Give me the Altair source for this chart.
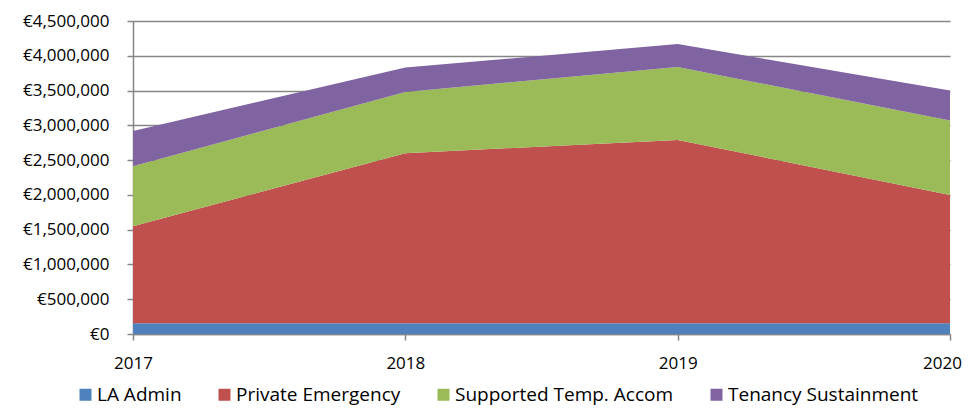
import altair as alt
import pandas as pd

years = ["2017", "2018", "2019", "2020"]
series = ["LA Admin", "Private Emergency", "Supported Temp. Accom", "Tenancy Sustainment"]
colors = ["#4F81BD", "#C0504D", "#9BBB59", "#8064A2"]

la_admin = [155000, 155000, 155000, 155000]
private_emergency = [1395000, 2445000, 2635000, 1845000]
supported_temp = [860000, 880000, 1050000, 1070000]
tenancy_sustainment = [510000, 350000, 330000, 430000]

values = [la_admin, private_emergency, supported_temp, tenancy_sustainment]
rows = []
for i, (name, vals) in enumerate(zip(series, values)):
    for y, v in zip(years, vals):
        rows.append({"Year": y, "Series": name, "Value": v, "order": i})
df = pd.DataFrame(rows)

FONT = "Open Sans"

chart = alt.Chart(df).mark_area(opacity=1).encode(
    x=alt.X("Year:O", scale=alt.Scale(type="point", padding=0),
            axis=alt.Axis(title=None, labelAngle=0, domainColor="#868686", tickColor="#868686",
                          tickSize=6, labelPadding=15, labelFontSize=17, labelFont=FONT,
                          labelColor="#000000", grid=False, labelBaseline="top",
                          labelOffset={"condition": {"test": "datum.label == '2020'", "value": -8},
                                       "value": 0})),
    y=alt.Y("Value:Q", stack="zero", scale=alt.Scale(domain=[0, 4500000], nice=False),
            axis=alt.Axis(title=None, values=list(range(0, 4500001, 500000)),
                          labelExpr="'€' + format(datum.value, ',')",
                          domainColor="#868686", tickColor="#868686", tickSize=6,
                          labelPadding=18, labelFontSize=17, labelFont=FONT,
                          labelColor="#000000", grid=True, gridColor="#868686", gridWidth=1.5)),
    color=alt.Color("Series:N", scale=alt.Scale(domain=series, range=colors),
                    legend=alt.Legend(title=None, orient="none", legendX=-57, legendY=364,
                                      direction="horizontal", columns=4, columnPadding=33,
                                      symbolType="square", symbolSize=144, symbolStrokeWidth=0,
                                      symbolOpacity=1, labelFontSize=19, labelFont=FONT,
                                      labelColor="#000000", labelOffset=2, labelLimit=400)),
    order=alt.Order("order:Q", sort="ascending"),
).properties(
    width=817, height=313,
    autosize=alt.AutoSizeParams(type="none"),
    padding={"left": 125, "top": 13, "right": 13, "bottom": 74},
).configure_view(stroke=None).configure_axis(domainWidth=1.5, tickWidth=1.5)

chart.save("out.html", embed_options={"renderer": "svg", "actions": False})
